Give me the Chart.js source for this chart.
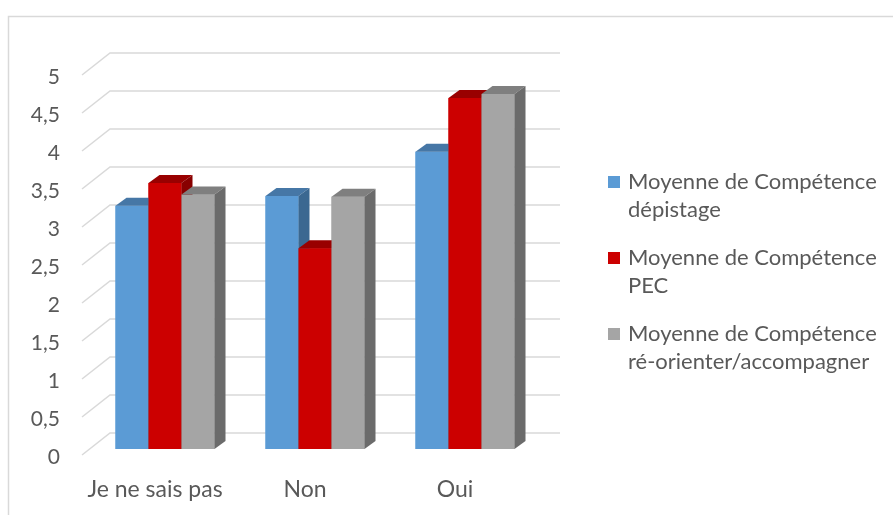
<!DOCTYPE html>
<html>
<head>
<meta charset="utf-8">
<script src="https://cdn.jsdelivr.net/npm/chart.js@4.4.0/dist/chart.umd.min.js"></script>
<style>
  html, body { margin: 0; padding: 0; background: #fff; }
  canvas { display: block; }
</style>
</head>
<body>
<canvas id="chart" width="893" height="515"></canvas>
<script>
// data
const categories = ['Je ne sais pas', 'Non', 'Oui'];
const depistage = [3.2, 3.33, 3.91];
const pec = [3.5, 2.64, 4.62];
const reorienter = [3.35, 3.32, 4.67];
const seriesLabels = [
  ['Moyenne de Compétence', 'dépistage'],
  ['Moyenne de Compétence', 'PEC'],
  ['Moyenne de Compétence', 'ré-orienter/accompagner']
];
const yTickLabels = ['0', '0,5', '1', '1,5', '2', '2,5', '3', '3,5', '4', '4,5', '5'];

// front / top / side colours of each series
const faces = [
  { front: '#5B9BD5', top: '#4677A6', side: '#3B6891' },
  { front: '#CC0000', top: '#990000', side: '#880000' },
  { front: '#A5A5A5', top: '#7F7F7F', side: '#6B6B6B' }
];

const FONT = 'Lato, "Open Sans", sans-serif';
const TEXT = '#595959';
const GRID = '#D9D9D9';
const DEPTH_X = 11, DEPTH_Y = -8;      // bar depth
const FRONT = { x: -8, y: 6 };         // front edge of the floor/walls
const BACK = { x: 20, y: -16 };        // back wall

// outer frame of the chart object
const framePlugin = {
  id: 'frame',
  beforeDraw(chart) {
    const ctx = chart.ctx;
    ctx.save();
    ctx.fillStyle = '#fff';
    ctx.fillRect(0, 0, chart.width, chart.height);
    ctx.strokeStyle = GRID;
    ctx.lineWidth = 1.5;
    ctx.beginPath();
    ctx.moveTo(8.5, chart.height + 5);
    ctx.lineTo(8.5, 16.5);
    ctx.lineTo(chart.width + 5, 16.5);
    ctx.stroke();
    ctx.restore();
  }
};

// back wall gridlines plus the diagonal side-wall lines
const wallPlugin = {
  id: 'wall',
  beforeDatasetsDraw(chart) {
    const ctx = chart.ctx;
    const y = chart.scales.y;
    const area = chart.chartArea;
    ctx.save();
    ctx.strokeStyle = GRID;
    ctx.lineWidth = 1.5;
    y.ticks.forEach(t => {
      const py = y.getPixelForValue(t.value);
      ctx.beginPath();
      ctx.moveTo(area.left + FRONT.x, py + FRONT.y);
      ctx.lineTo(area.left + BACK.x, py + BACK.y);
      ctx.lineTo(area.right + BACK.x, py + BACK.y);
      ctx.stroke();
    });
    ctx.restore();
  }
};

// Chart.js paints datasets last-to-first; repaint them first-to-last
// with top and side faces so they look like Excel 3-D columns
const bar3dPlugin = {
  id: 'bar3d',
  afterDatasetsDraw(chart) {
    const ctx = chart.ctx;
    ctx.save();
    chart.data.datasets.forEach((ds, i) => {
      const f = faces[i];
      chart.getDatasetMeta(i).data.forEach(bar => {
        bar.draw(ctx, chart.chartArea);
        const p = bar.getProps(['x', 'y', 'base', 'width'], true);
        const l = p.x - p.width / 2, r = p.x + p.width / 2;
        ctx.fillStyle = f.top;
        ctx.beginPath();
        ctx.moveTo(l, p.y);
        ctx.lineTo(l + DEPTH_X, p.y + DEPTH_Y);
        ctx.lineTo(r + DEPTH_X, p.y + DEPTH_Y);
        ctx.lineTo(r, p.y);
        ctx.closePath();
        ctx.fill();
        ctx.fillStyle = f.side;
        ctx.beginPath();
        ctx.moveTo(r, p.y);
        ctx.lineTo(r + DEPTH_X, p.y + DEPTH_Y);
        ctx.lineTo(r + DEPTH_X, p.base + DEPTH_Y);
        ctx.lineTo(r, p.base);
        ctx.closePath();
        ctx.fill();
      });
    });
    ctx.restore();
  }
};

// legend on the right with two-line labels
const legendPlugin = {
  id: 'sideLegend',
  afterDraw(chart) {
    const ctx = chart.ctx;
    ctx.save();
    ctx.font = '22px ' + FONT;
    ctx.textBaseline = 'middle';
    chart.data.datasets.forEach((ds, i) => {
      const y0 = 182 + i * 76;
      ctx.fillStyle = ds.backgroundColor;
      ctx.fillRect(608, y0 - 6, 12, 12);
      ctx.fillStyle = TEXT;
      ds.label.forEach((line, j) => {
        ctx.fillText(line, 628, y0 + j * 28);
      });
    });
    ctx.restore();
  }
};

new Chart(document.getElementById('chart'), {
  type: 'bar',
  data: {
    labels: categories,
    datasets: [depistage, pec, reorienter].map((d, i) => ({
      label: seriesLabels[i],
      data: d,
      backgroundColor: faces[i].front,
      borderWidth: 0,
      barPercentage: 1,
      categoryPercentage: 0.66
    }))
  },
  options: {
    responsive: false,
    animation: false,
    devicePixelRatio: 1,
    layout: { padding: { top: 69, right: 353, left: 0, bottom: 0 } },
    plugins: {
      legend: { display: false },
      tooltip: { enabled: false }
    },
    scales: {
      x: {
        grid: { display: false, drawTicks: false },
        border: { display: false },
        afterFit(s) { s.height = 66; },
        ticks: {
          color: TEXT,
          font: { family: FONT, size: 23 },
          padding: 27,
          labelOffset: -10,
          maxRotation: 0
        }
      },
      y: {
        min: 0,
        max: 5,
        grid: { display: false, drawTicks: false },
        border: { display: false },
        afterFit(s) { s.width = 90; },
        ticks: {
          stepSize: 0.5,
          color: TEXT,
          font: { family: FONT, size: 21 },
          padding: 30,
          labelOffset: 8,
          callback: (v, i) => yTickLabels[i]
        }
      }
    }
  },
  plugins: [framePlugin, wallPlugin, bar3dPlugin, legendPlugin]
});
</script>
</body>
</html>
